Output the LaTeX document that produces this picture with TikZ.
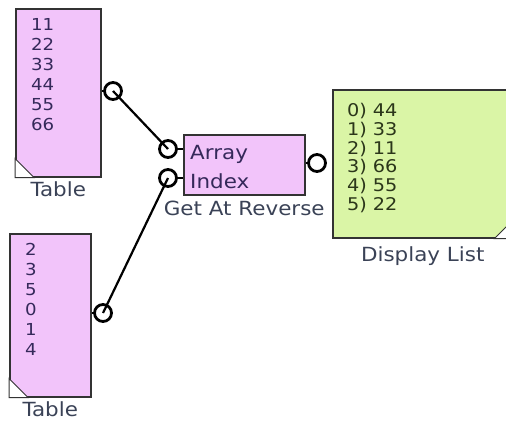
\documentclass[tikz,border=0pt]{standalone}
\usepackage{fontspec}
\setmainfont{DejaVu Sans}[FakeStretch=1.1]
\usetikzlibrary{calc}
\definecolor{ink}{HTML}{333333}
\definecolor{pinkbox}{HTML}{F2C4FA}
\definecolor{greenbox}{HTML}{DAF5A6}
\definecolor{tabtx}{HTML}{35295A}
\definecolor{listtx}{HTML}{2B361A}
\definecolor{labtx}{HTML}{3A4256}
\newcommand{\tabfont}{\fontsize{16.5}{20}\selectfont}
\newcommand{\listfont}{\fontsize{17.5}{18.8}\selectfont}
\newcommand{\labfont}{\fontsize{19.5}{20}\selectfont}
\tikzset{
  block/.style={draw=ink,line width=1.5pt,inner sep=0pt,anchor=north west},
  port/.style={circle,draw=black,fill=white,line width=2.8pt,minimum size=17pt,inner sep=0pt},
  wire/.style={black,line width=2.2pt},
  caption/.style={labtx,font=\labfont,inner sep=0pt,anchor=north},
  celltext/.style={inner sep=0pt,anchor=north west,align=left},
}
\newcommand{\foldSW}[1]{\draw[ink,line width=1pt,fill=white] (#1.south west) -- ++(0,-19) -- ($(#1.south west)+(19,0)$) -- cycle;}
\newcommand{\foldSE}[1]{\draw[ink,line width=1pt,fill=white] (#1.south east) -- ++(0,-19) -- ($(#1.south east)+(-19,0)$) -- cycle;}

\begin{document}
\begin{tikzpicture}[x=1pt,y=-1pt]
\useasboundingbox (0,0) rectangle (506,421);

% ---------------------------------------------------------------- first table
\node[block,fill=pinkbox,minimum width=85pt,minimum height=168pt] (tabA) at (15,8) {};
\foldSW{tabA}
\node[celltext,tabtx,font=\tabfont] (tabAtx) at (31,18) {11\\22\\33\\44\\55\\66};
\node[caption] (tabAcap) at ($(tabA.south)+(0,4)$) {Table};
\node[port] (tabAout) at (113,91) {};

% ---------------------------------------------------------------- second table
\node[block,fill=pinkbox,minimum width=81pt,minimum height=163pt] (tabB) at (9,233) {};
\foldSW{tabB}
\node[celltext,tabtx,font=\tabfont] (tabBtx) at (25,243) {2\\3\\5\\0\\1\\4};
\node[caption] (tabBcap) at ($(tabB.south)+(0,4)$) {Table};
\node[port] (tabBout) at (103,313) {};

% ---------------------------------------------------------------- get at reverse
\node[block,fill=pinkbox,minimum width=121pt,minimum height=60pt] (rev) at (183,134) {};
\node[tabtx,font=\labfont,inner sep=0pt,anchor=base west] (revA) at (190,159) {Array};
\node[tabtx,font=\labfont,inner sep=0pt,anchor=base west] (revI) at (190,188) {Index};
\node[caption] (revcap) at ($(rev.south)+(0,5)$) {Get At Reverse};
\node[port] (arrIn) at (168,149) {};
\node[port] (idxIn) at (168,178) {};
\node[port] (revOut) at (317,163) {};

% ---------------------------------------------------------------- display list
\node[block,fill=greenbox,minimum width=180pt,minimum height=148pt] (disp) at (332,89) {};
\foldSE{disp}
\node[celltext,listtx,font=\listfont] (disptx) at (347,103) {0)\,\,44\\1)\,\,33\\2)\,\,11\\3)\,\,66\\4)\,\,55\\5)\,\,22};
\node[caption] (dispcap) at ($(disp.south)+(0,8)$) {Display List};

% ---------------------------------------------------------------- stubs and wires
\draw[wire] (tabAout.west) -- (tabAout.west -| tabA.east);
\draw[wire] (tabBout.west) -- (tabBout.west -| tabB.east);
\draw[wire] (arrIn.east) -- (arrIn.east -| rev.west);
\draw[wire] (idxIn.east) -- (idxIn.east -| rev.west);
\draw[wire] (revOut.west) -- (revOut.west -| rev.east);
\draw[wire] (tabAout.center) -- (arrIn.center);
\draw[wire] (tabBout.center) -- (idxIn.center);

\end{tikzpicture}
\end{document}
